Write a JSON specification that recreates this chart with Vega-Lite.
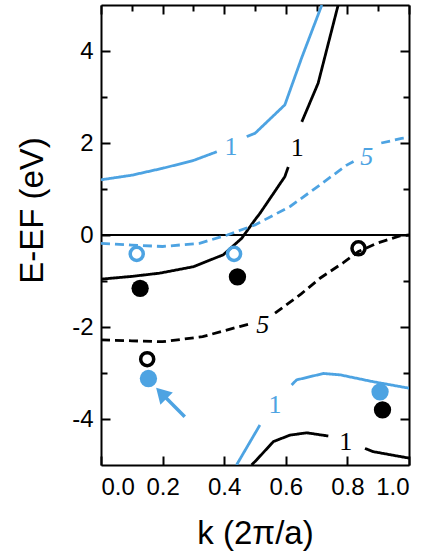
{
  "$schema": "https://vega.github.io/schema/vega-lite/v6.json",
  "width": 308,
  "height": 460,
  "autosize": "none",
  "padding": {"left": 101, "top": 5, "right": 19, "bottom": 86},
  "background": "white",
  "config": {
    "view": {"stroke": null},
    "axis": {
      "grid": false,
      "domainColor": "black",
      "domainWidth": 2,
      "tickColor": "black",
      "tickWidth": 2,
      "labelFont": "Liberation Sans",
      "labelFontSize": 24,
      "labelColor": "black",
      "titleFont": "Liberation Sans",
      "titleFontSize": 33,
      "titleFontWeight": "normal",
      "titleColor": "black"
    }
  },
  "datasets": {
    "curves": [
      {"seg": "b1u_a", "c": "blue", "s": "solid", "k": 0.0, "E": 1.2},
      {"seg": "b1u_a", "c": "blue", "s": "solid", "k": 0.1, "E": 1.3},
      {"seg": "b1u_a", "c": "blue", "s": "solid", "k": 0.2, "E": 1.45},
      {"seg": "b1u_a", "c": "blue", "s": "solid", "k": 0.3, "E": 1.62},
      {"seg": "b1u_a", "c": "blue", "s": "solid", "k": 0.376, "E": 1.81},
      {"seg": "b1u_b", "c": "blue", "s": "solid", "k": 0.473, "E": 2.14},
      {"seg": "b1u_b", "c": "blue", "s": "solid", "k": 0.5, "E": 2.21},
      {"seg": "b1u_b", "c": "blue", "s": "solid", "k": 0.597, "E": 2.83},
      {"seg": "b1u_b", "c": "blue", "s": "solid", "k": 0.652, "E": 3.86},
      {"seg": "b1u_b", "c": "blue", "s": "solid", "k": 0.717, "E": 5.0},
      {"seg": "k1u_a", "c": "black", "s": "solid", "k": 0.0, "E": -0.96},
      {"seg": "k1u_a", "c": "black", "s": "solid", "k": 0.1, "E": -0.9},
      {"seg": "k1u_a", "c": "black", "s": "solid", "k": 0.19, "E": -0.83},
      {"seg": "k1u_a", "c": "black", "s": "solid", "k": 0.3, "E": -0.69},
      {"seg": "k1u_a", "c": "black", "s": "solid", "k": 0.397, "E": -0.43},
      {"seg": "k1u_a", "c": "black", "s": "solid", "k": 0.457, "E": -0.07},
      {"seg": "k1u_a", "c": "black", "s": "solid", "k": 0.5, "E": 0.33},
      {"seg": "k1u_a", "c": "black", "s": "solid", "k": 0.516, "E": 0.47},
      {"seg": "k1u_a", "c": "black", "s": "solid", "k": 0.597, "E": 1.27},
      {"seg": "k1u_a", "c": "black", "s": "solid", "k": 0.608, "E": 1.48},
      {"seg": "k1u_b", "c": "black", "s": "solid", "k": 0.652, "E": 2.46},
      {"seg": "k1u_b", "c": "black", "s": "solid", "k": 0.705, "E": 3.3},
      {"seg": "k1u_b", "c": "black", "s": "solid", "k": 0.77, "E": 5.0},
      {"seg": "b5_a", "c": "blue", "s": "dashed", "k": 0.0, "E": -0.18},
      {"seg": "b5_a", "c": "blue", "s": "dashed", "k": 0.1, "E": -0.22},
      {"seg": "b5_a", "c": "blue", "s": "dashed", "k": 0.2, "E": -0.25},
      {"seg": "b5_a", "c": "blue", "s": "dashed", "k": 0.32, "E": -0.18},
      {"seg": "b5_a", "c": "blue", "s": "dashed", "k": 0.41, "E": 0.0},
      {"seg": "b5_a", "c": "blue", "s": "dashed", "k": 0.5, "E": 0.22},
      {"seg": "b5_a", "c": "blue", "s": "dashed", "k": 0.614, "E": 0.62},
      {"seg": "b5_a", "c": "blue", "s": "dashed", "k": 0.711, "E": 1.09},
      {"seg": "b5_a", "c": "blue", "s": "dashed", "k": 0.798, "E": 1.52},
      {"seg": "b5_a", "c": "blue", "s": "dashed", "k": 0.82, "E": 1.6},
      {"seg": "b5_b", "c": "blue", "s": "dashed", "k": 0.91, "E": 2.0},
      {"seg": "b5_b", "c": "blue", "s": "dashed", "k": 0.976, "E": 2.1},
      {"seg": "b5_b", "c": "blue", "s": "dashed", "k": 1.0, "E": 2.12},
      {"seg": "k5_a", "c": "black", "s": "dashed", "k": 0.0, "E": -2.28},
      {"seg": "k5_a", "c": "black", "s": "dashed", "k": 0.1, "E": -2.3},
      {"seg": "k5_a", "c": "black", "s": "dashed", "k": 0.2, "E": -2.32},
      {"seg": "k5_a", "c": "black", "s": "dashed", "k": 0.33, "E": -2.21},
      {"seg": "k5_a", "c": "black", "s": "dashed", "k": 0.45, "E": -1.99},
      {"seg": "k5_a", "c": "black", "s": "dashed", "k": 0.49, "E": -1.92},
      {"seg": "k5_b", "c": "black", "s": "dashed", "k": 0.565, "E": -1.7},
      {"seg": "k5_b", "c": "black", "s": "dashed", "k": 0.65, "E": -1.28},
      {"seg": "k5_b", "c": "black", "s": "dashed", "k": 0.711, "E": -0.94},
      {"seg": "k5_b", "c": "black", "s": "dashed", "k": 0.787, "E": -0.6},
      {"seg": "k5_b", "c": "black", "s": "dashed", "k": 0.836, "E": -0.36},
      {"seg": "k5_b", "c": "black", "s": "dashed", "k": 0.895, "E": -0.18},
      {"seg": "k5_b", "c": "black", "s": "dashed", "k": 0.97, "E": -0.02},
      {"seg": "k5_b", "c": "black", "s": "dashed", "k": 1.0, "E": 0.0},
      {"seg": "b1l_a", "c": "blue", "s": "solid", "k": 0.44, "E": -5.0},
      {"seg": "b1l_a", "c": "blue", "s": "solid", "k": 0.516, "E": -4.13},
      {"seg": "b1l_b", "c": "blue", "s": "solid", "k": 0.619, "E": -3.26},
      {"seg": "b1l_b", "c": "blue", "s": "solid", "k": 0.635, "E": -3.15},
      {"seg": "b1l_b", "c": "blue", "s": "solid", "k": 0.679, "E": -3.08},
      {"seg": "b1l_b", "c": "blue", "s": "solid", "k": 0.722, "E": -3.01},
      {"seg": "b1l_b", "c": "blue", "s": "solid", "k": 0.776, "E": -3.04},
      {"seg": "b1l_b", "c": "blue", "s": "solid", "k": 0.884, "E": -3.19},
      {"seg": "b1l_b", "c": "blue", "s": "solid", "k": 1.0, "E": -3.33},
      {"seg": "k1l_a", "c": "black", "s": "solid", "k": 0.489, "E": -5.0},
      {"seg": "k1l_a", "c": "black", "s": "solid", "k": 0.505, "E": -4.89},
      {"seg": "k1l_a", "c": "black", "s": "solid", "k": 0.56, "E": -4.49},
      {"seg": "k1l_a", "c": "black", "s": "solid", "k": 0.614, "E": -4.35},
      {"seg": "k1l_a", "c": "black", "s": "solid", "k": 0.668, "E": -4.3},
      {"seg": "k1l_a", "c": "black", "s": "solid", "k": 0.738, "E": -4.37},
      {"seg": "k1l_b", "c": "black", "s": "solid", "k": 0.857, "E": -4.64},
      {"seg": "k1l_b", "c": "black", "s": "solid", "k": 0.884, "E": -4.71},
      {"seg": "k1l_b", "c": "black", "s": "solid", "k": 0.95, "E": -4.79},
      {"seg": "k1l_b", "c": "black", "s": "solid", "k": 1.0, "E": -4.85}
    ],
    "openpts": [
      {"c": "blue", "k": 0.116, "E": -0.41},
      {"c": "blue", "k": 0.432, "E": -0.41},
      {"c": "black", "k": 0.15, "E": -2.7},
      {"c": "black", "k": 0.836, "E": -0.29}
    ],
    "filledpts": [
      {"c": "black", "k": 0.127, "E": -1.16},
      {"c": "black", "k": 0.443, "E": -0.91},
      {"c": "black", "k": 0.914, "E": -3.8},
      {"c": "blue", "k": 0.154, "E": -3.12},
      {"c": "blue", "k": 0.906, "E": -3.41}
    ],
    "labels1": [
      {"c": "blue", "k": 0.422, "E": 1.91, "t": "1"},
      {"c": "black", "k": 0.637, "E": 1.9, "t": "1"},
      {"c": "blue", "k": 0.565, "E": -3.7, "t": "1"},
      {"c": "black", "k": 0.795, "E": -4.49, "t": "1"}
    ],
    "labels5": [
      {"c": "blue", "k": 0.863, "E": 1.7, "t": "5"},
      {"c": "black", "k": 0.525, "E": -1.96, "t": "5"}
    ],
    "arrow": [
      {"k": 0.272, "E": -3.95, "k2": 0.205, "E2": -3.5, "hk": 0.196, "hE": -3.44}
    ],
    "dummy": [{"k": 0, "E": 0}]
  },
  "layer": [
    {
      "layer": [
        {
          "data": {"name": "dummy"},
          "mark": {"type": "rule", "color": "black", "strokeWidth": 2},
          "encoding": {
            "y": {"datum": 0, "type": "quantitative"}
          }
        },
        {
          "data": {"name": "curves"},
          "mark": {"type": "line", "clip": true, "strokeWidth": 2.8},
          "encoding": {
            "x": {
              "field": "k", "type": "quantitative",
              "scale": {"domain": [0, 1], "nice": false, "zero": false},
              "axis": {
                "orient": "bottom",
                "values": [0, 0.1, 0.2, 0.3, 0.4, 0.5, 0.6, 0.7, 0.8, 0.9, 1.0],
                "labelExpr": "round(datum.value*10) % 2 == 0 ? format(datum.value, '.1f') : ''",
                "tickSize": {"condition": {"test": "round(datum.value*10) % 2 == 1", "value": -6}, "value": -9},
                "labelPadding": 19,
                "title": "k (2π/a)",
                "titleBaseline": "alphabetic",
                "titleY": 78
              }
            },
            "y": {
              "field": "E", "type": "quantitative",
              "scale": {"domain": [-5, 5], "nice": false, "zero": false},
              "axis": {
                "orient": "left",
                "values": [-4, -3, -2, -1, 0, 1, 2, 3, 4],
                "labelExpr": "abs(round(datum.value)) % 2 == 0 ? (datum.value < 0 ? '-' + abs(datum.value) : '' + datum.value) : ''",
                "tickSize": {"condition": {"test": "abs(round(datum.value)) % 2 == 1", "value": -6}, "value": -9},
                "labelPadding": 17,
                "title": "E-EF (eV)",
                "titleBaseline": "alphabetic",
                "titleX": -59,
                "titleY": 205
              }
            },
            "detail": {"field": "seg"},
            "color": {"field": "c", "type": "nominal", "scale": {"domain": ["blue", "black"], "range": ["#4DA3E2", "#000000"]}, "legend": null},
            "strokeDash": {"field": "s", "type": "nominal", "scale": {"domain": ["solid", "dashed"], "range": [[1, 0], [9, 5]]}, "legend": null}
          }
        },
        {
          "data": {"name": "arrow"},
          "mark": {"type": "rule", "color": "#4DA3E2", "strokeWidth": 3.5},
          "encoding": {
            "x": {"field": "k", "type": "quantitative"},
            "y": {"field": "E", "type": "quantitative"},
            "x2": {"field": "k2"},
            "y2": {"field": "E2"}
          }
        },
        {
          "data": {"name": "arrow"},
          "mark": {"type": "point", "shape": "triangle-up", "filled": true, "color": "#4DA3E2", "opacity": 1, "size": 300, "angle": 316},
          "encoding": {
            "x": {"field": "hk", "type": "quantitative"},
            "y": {"field": "hE", "type": "quantitative"}
          }
        },
        {
          "data": {"name": "openpts"},
          "mark": {"type": "point", "filled": false, "strokeWidth": 3.5, "opacity": 1, "size": 170},
          "encoding": {
            "x": {"field": "k", "type": "quantitative"},
            "y": {"field": "E", "type": "quantitative"},
            "color": {"field": "c", "type": "nominal", "scale": {"domain": ["blue", "black"], "range": ["#4DA3E2", "#000000"]}, "legend": null}
          }
        },
        {
          "data": {"name": "filledpts"},
          "mark": {"type": "circle", "opacity": 1, "size": 300},
          "encoding": {
            "x": {"field": "k", "type": "quantitative"},
            "y": {"field": "E", "type": "quantitative"},
            "color": {"field": "c", "type": "nominal", "scale": {"domain": ["blue", "black"], "range": ["#4DA3E2", "#000000"]}, "legend": null}
          }
        },
        {
          "data": {"name": "labels1"},
          "mark": {"type": "text", "font": "Liberation Serif", "fontSize": 26, "baseline": "middle", "align": "center"},
          "encoding": {
            "x": {"field": "k", "type": "quantitative"},
            "y": {"field": "E", "type": "quantitative"},
            "text": {"field": "t"},
            "color": {"field": "c", "type": "nominal", "scale": {"domain": ["blue", "black"], "range": ["#4DA3E2", "#000000"]}, "legend": null}
          }
        },
        {
          "data": {"name": "labels5"},
          "mark": {"type": "text", "font": "Liberation Serif", "fontSize": 26, "fontStyle": "italic", "baseline": "middle", "align": "center"},
          "encoding": {
            "x": {"field": "k", "type": "quantitative"},
            "y": {"field": "E", "type": "quantitative"},
            "text": {"field": "t"},
            "color": {"field": "c", "type": "nominal", "scale": {"domain": ["blue", "black"], "range": ["#4DA3E2", "#000000"]}, "legend": null}
          }
        }
      ]
    },
    {
      "data": {"name": "dummy"},
      "mark": {"type": "point", "opacity": 0},
      "encoding": {
        "x": {
          "field": "k", "type": "quantitative",
          "scale": {"domain": [0, 1], "nice": false, "zero": false},
          "axis": {
            "orient": "top",
            "values": [0, 0.1, 0.2, 0.3, 0.4, 0.5, 0.6, 0.7, 0.8, 0.9, 1.0],
            "labels": false,
            "title": null,
            "tickSize": {"condition": {"test": "round(datum.value*10) % 2 == 1", "value": -6}, "value": -9}
          }
        },
        "y": {
          "field": "E", "type": "quantitative",
          "scale": {"domain": [-5, 5], "nice": false, "zero": false},
          "axis": {
            "orient": "right",
            "values": [-4, -3, -2, -1, 0, 1, 2, 3, 4],
            "labels": false,
            "title": null,
            "tickSize": {"condition": {"test": "abs(round(datum.value)) % 2 == 1", "value": -6}, "value": -9}
          }
        }
      }
    }
  ],
  "resolve": {"axis": {"x": "independent", "y": "independent"}}
}
